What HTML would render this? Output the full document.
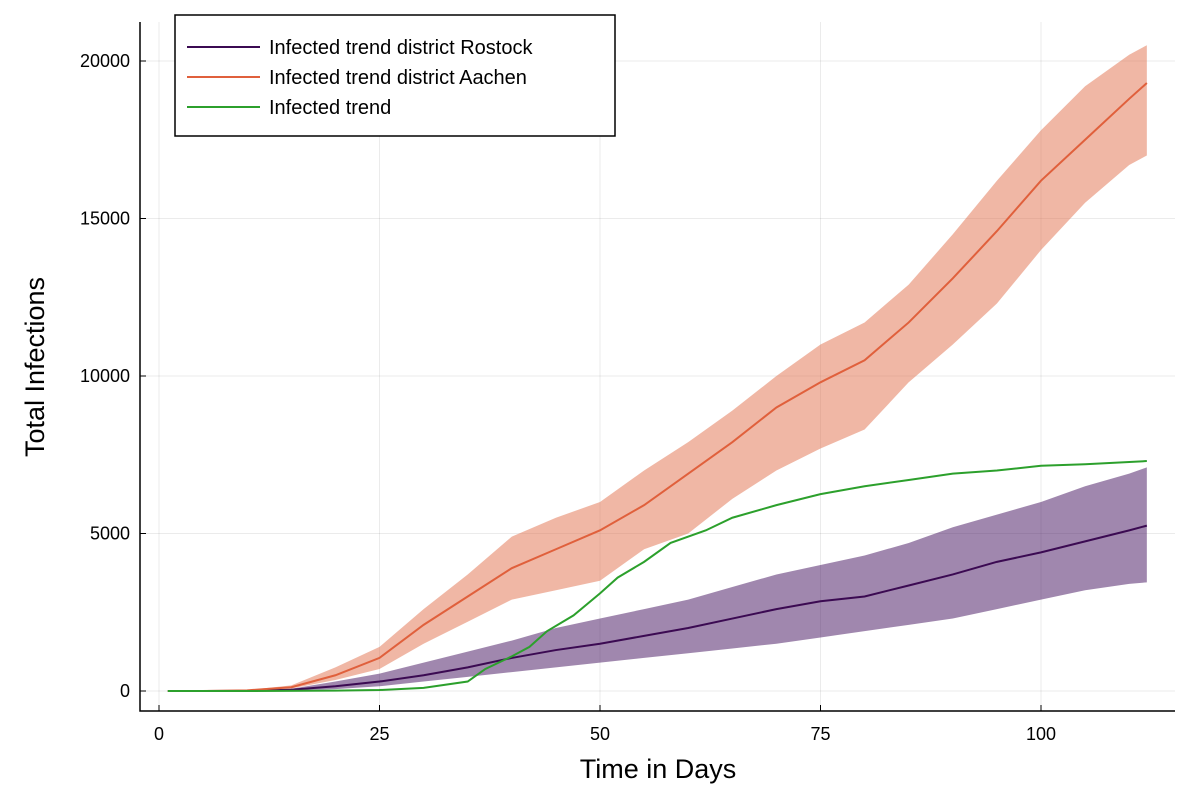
<!DOCTYPE html>
<html><head><meta charset="utf-8"><style>
body{margin:0;background:#fff;}
svg{display:block;font-family:"Liberation Sans","DejaVu Sans",sans-serif;}
</style></head><body>
<svg id="chart" width="1200" height="800"></svg>
<script>
const days=[1,5,10,15,20,25,30,35,40,45,50,55,60,65,70,75,80,85,90,95,100,105,110,112];
const aachenMean=[0,0,20,120,500,1050,2100,3000,3900,4500,5100,5900,6900,7900,9000,9800,10500,11700,13100,14600,16200,17500,18800,19300];
const aachenUpper=[0,0,30,180,750,1400,2600,3700,4900,5500,6000,7000,7900,8900,10000,11000,11700,12900,14500,16200,17800,19200,20200,20500];
const aachenLower=[0,0,10,80,350,700,1500,2200,2900,3200,3500,4500,5000,6100,7000,7700,8300,9800,11000,12300,14000,15500,16700,17000];
const rostockMean=[0,0,5,40,150,300,500,750,1050,1300,1500,1750,2000,2300,2600,2850,3000,3350,3700,4100,4400,4750,5100,5250];
const rostockUpper=[0,0,10,70,300,550,900,1250,1600,2000,2300,2600,2900,3300,3700,4000,4300,4700,5200,5600,6000,6500,6900,7100];
const rostockLower=[0,0,0,15,60,150,300,450,600,750,900,1050,1200,1350,1500,1700,1900,2100,2300,2600,2900,3200,3400,3450];
const greenDays=[1,10,20,25,30,35,37,40,42,44,47,50,52,55,58,62,65,70,75,80,85,90,95,100,105,112];
const greenVals=[0,0,10,30,100,300,700,1100,1400,1900,2400,3100,3600,4100,4700,5100,5500,5900,6250,6500,6700,6900,7000,7150,7200,7300];
const xTicks=[0,25,50,75,100];
const yTicks=[0,5000,10000,15000,20000];

const NS="http://www.w3.org/2000/svg";
const svg=document.getElementById('chart');
const X=d=>159+d*(1041-159)/100;
const Y=v=>691-v*(691-61)/20000;
function mk(t,a,p){const e=document.createElementNS(NS,t);for(const k in a)e.setAttribute(k,a[k]);(p||svg).appendChild(e);return e;}
// grid
xTicks.forEach(t=>{const l=mk('line',{x1:X(t),x2:X(t),y1:22,y2:711,stroke:'#000','stroke-opacity':0.08,'stroke-width':1});

});
yTicks.forEach(t=>{const l=mk('line',{x1:140,x2:1175,y1:Y(t),y2:Y(t),stroke:'#000','stroke-opacity':0.08,'stroke-width':1});

});
function band(up,lo,col,name){
  let pts=days.map((d,i)=>X(d)+','+Y(up[i]));
  pts=pts.concat(days.map((d,i)=>X(d)+','+Y(lo[i])).reverse());
  const p=mk('polygon',{points:pts.join(' '),fill:col,'fill-opacity':0.5});
  
  
}
function line(xs,vs,col,name){
  const p=mk('polyline',{points:xs.map((d,i)=>X(d)+','+Y(vs[i])).join(' '),fill:'none',stroke:col,'stroke-width':2});
  
  
}
band(aachenUpper,aachenLower,'#e26f4c','aachen-band');
band(rostockUpper,rostockLower,'#42105e','rostock-band');
line(days,rostockMean,'#3b0a52','rostock-line');
line(days,aachenMean,'#e0603c','aachen-line');
line(greenDays,greenVals,'#2ca02c','infected-trend-line');
// axes
const ax=mk('path',{d:'M140 22 V711 H1175',fill:'none',stroke:'#000','stroke-width':1.5});


xTicks.forEach(t=>{mk('line',{x1:X(t),x2:X(t),y1:711,y2:705,stroke:'#000'});
const tx=mk('text',{x:X(t),y:740,'text-anchor':'middle','font-size':18});tx.textContent=t;

});
yTicks.forEach(t=>{mk('line',{x1:140,x2:146,y1:Y(t),y2:Y(t),stroke:'#000'});
const tx=mk('text',{x:130,y:Y(t)+6,'text-anchor':'end','font-size':18});tx.textContent=t;

});
const xt=mk('text',{x:658,y:778,'text-anchor':'middle','font-size':27});xt.textContent='Time in Days';


const yt=mk('text',{x:44,y:367,'text-anchor':'middle','font-size':27,transform:'rotate(-90 44 367)'});yt.textContent='Total Infections';


// legend
const lg=mk('g',{});


mk('rect',{x:175,y:15,width:440,height:121,fill:'#fff',stroke:'#000','stroke-width':1.5},lg);
[['Infected trend district Rostock','#3b0a52'],['Infected trend district Aachen','#e0603c'],['Infected trend','#2ca02c']].forEach((e,i)=>{
  const g=mk('g',{},lg);
  
  
  const y=47+i*30;
  mk('line',{x1:187,x2:260,y1:y,y2:y,stroke:e[1],'stroke-width':2},g);
  const t=mk('text',{x:269,y:y+7,'font-size':20},g);t.textContent=e[0];
});
</script>
</body></html>
